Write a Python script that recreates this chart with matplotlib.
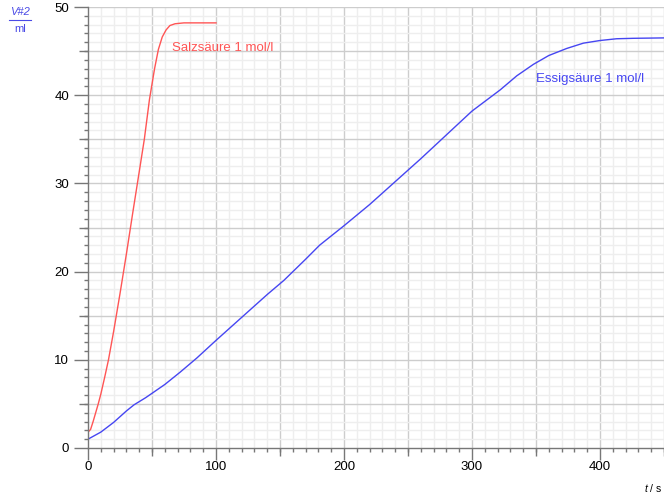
import matplotlib
matplotlib.use("Agg")
import matplotlib.pyplot as plt
from matplotlib.ticker import MultipleLocator, FixedLocator, NullFormatter
from matplotlib.lines import Line2D

plt.rcParams['font.family'] = ['Liberation Sans', 'DejaVu Sans']
plt.rcParams['mathtext.fontset'] = 'custom'
plt.rcParams['mathtext.it'] = 'Liberation Sans:italic'
plt.rcParams['mathtext.rm'] = 'Liberation Sans'

# Salzsäure 1 mol/l
t_hcl = [0, 2, 4, 6, 8, 10, 13, 16, 20, 25, 30, 35, 40, 44, 48, 52, 55, 58, 61, 64, 68, 75, 100]
v_hcl = [1.8, 2.1, 3.0, 4.0, 5.0, 6.1, 8.0, 10.0, 13.2, 17.5, 22.0, 26.7, 31.3, 35.0, 39.5, 43.0,
         45.2, 46.6, 47.4, 47.9, 48.1, 48.2, 48.2]

# Essigsäure 1 mol/l
t_ac = [0, 10, 20, 30, 36, 45, 60, 72, 85, 100, 120, 140, 153, 170, 181, 200, 220, 240, 260, 280,
        300, 322, 335, 348, 360, 374, 387, 400, 413, 426, 452]
v_ac = [1.0, 1.8, 2.9, 4.2, 4.9, 5.7, 7.2, 8.6, 10.2, 12.2, 14.8, 17.4, 19.0, 21.4, 23.0, 25.2,
        27.6, 30.2, 32.8, 35.5, 38.2, 40.6, 42.2, 43.5, 44.5, 45.3, 45.9, 46.2, 46.4, 46.45, 46.5]

x_labels = [0, 100, 200, 300, 400]
y_labels = [0, 10, 20, 30, 40, 50]

W, H = 664, 495
PX = 0.72  # points per pixel at dpi 100
fig = plt.figure(figsize=(W / 100, H / 100), dpi=100)
ax = fig.add_axes([88 / W, 1 - 448 / H, (664 - 88) / W, (448 - 7) / H])
ax.set_xlim(0, 450)
ax.set_ylim(0, 50)

red = '#ff5555'
blue = '#4646f2'
light = '#eeeeee'
dark = '#cdcdcd'
axc = '#777777'

# grid
for xv in range(10, 451, 10):
    ax.axvline(xv, color=dark if xv % 50 == 0 else light, lw=1.0, zorder=0)
for yv in range(1, 51):
    ax.axhline(yv, color=dark if yv % 5 == 0 else light, lw=1.0, zorder=0)

ax.plot(t_hcl, v_hcl, color=red, lw=1.0)
ax.plot(t_ac, v_ac, color=blue, lw=1.0)

ax.text(66, 45.3, 'Salzsäure 1 mol/l', color=red, fontsize=9.5, va='center', ha='left')
ax.text(350, 41.8, 'Essigsäure 1 mol/l', color=blue, fontsize=9.5, va='center', ha='left')

for s in ['top', 'right']:
    ax.spines[s].set_visible(False)
for s in ['left', 'bottom']:
    ax.spines[s].set_color(axc)
    ax.spines[s].set_linewidth(1.0)

ax.xaxis.set_major_locator(FixedLocator(x_labels))
ax.xaxis.set_minor_locator(MultipleLocator(10))
ax.yaxis.set_major_locator(FixedLocator(y_labels))
ax.yaxis.set_minor_locator(MultipleLocator(1))
ax.tick_params(axis='x', which='major', length=12 * PX, width=1, color=axc, labelsize=9.5, pad=1)
ax.tick_params(axis='x', which='minor', length=4 * PX, width=1, color=axc)
ax.tick_params(axis='y', which='major', length=14 * PX, width=1, color=axc, labelsize=9.5, pad=3.6)
ax.tick_params(axis='y', which='minor', length=4 * PX, width=1, color=axc)

# medium ticks at 50 (x) and 5 (y)
secx = ax.secondary_xaxis('bottom')
secx.xaxis.set_major_locator(FixedLocator([50, 150, 250, 350, 450]))
secx.xaxis.set_major_formatter(NullFormatter())
secx.tick_params(length=8 * PX, width=1, color=axc)
secx.spines['bottom'].set_visible(False)
secy = ax.secondary_yaxis('left')
secy.yaxis.set_major_locator(FixedLocator([5, 15, 25, 35, 45]))
secy.yaxis.set_major_formatter(NullFormatter())
secy.tick_params(length=9 * PX, width=1, color=axc)
secy.spines['left'].set_visible(False)

# axis labels
lblue = '#4a4ae6'
fig.text(20 / W, 1 - 12 / H, 'V#2', color=lblue, fontsize=8, style='italic', ha='center', va='center')
fig.add_artist(Line2D([9 / W, 31 / W], [1 - 20 / H, 1 - 20 / H], color=lblue, lw=0.8))
fig.text(20 / W, 1 - 29 / H, 'ml', color=lblue, fontsize=8, ha='center', va='center')

fig.text(662 / W, 1 - 488 / H, r'$\mathit{t}$ / s', fontsize=7.5, ha='right', va='center')

fig.savefig('out.png', dpi=100)
